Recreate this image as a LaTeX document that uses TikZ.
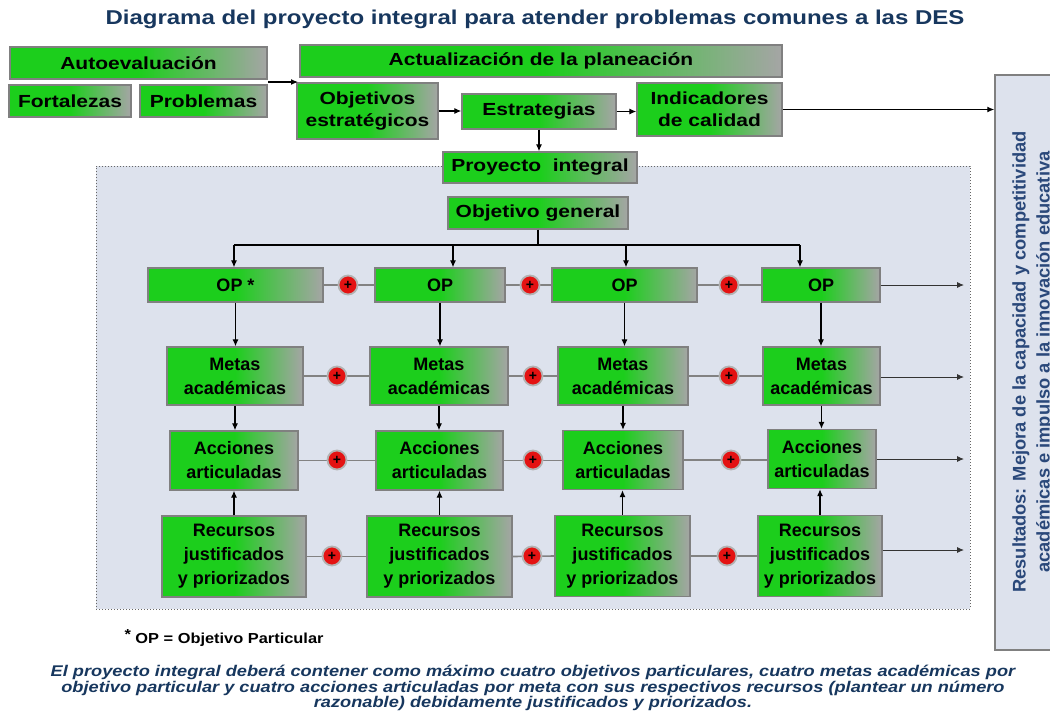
\documentclass[tikz,border=0pt]{standalone}
\usepackage{fontspec}
\setmainfont{Liberation Sans}
\newfontfamily\wideA[FakeStretch=1.2]{Liberation Sans}
\newfontfamily\wideB[FakeStretch=1.13]{Liberation Sans}
\newfontfamily\wideC[FakeStretch=1.175]{Liberation Sans}
\usetikzlibrary{arrows.meta}
\definecolor{bgreen}{RGB}{28,206,28}
\definecolor{bgray}{RGB}{165,165,165}
\definecolor{bordergray}{RGB}{128,128,128}
\definecolor{panelfill}{RGB}{221,226,237}
\definecolor{titleblue}{RGB}{23,55,94}
\definecolor{resblue}{RGB}{42,72,122}
\definecolor{pred}{RGB}{228,18,18}
\definecolor{linkgray}{RGB}{130,130,130}
\pgfdeclarehorizontalshading{gshade}{100bp}{color(0bp)=(bgreen); color(50bp)=(bgreen); color(75bp)=(bgray); color(100bp)=(bgray)}
\begin{document}
\begin{tikzpicture}[x=1pt,y=-1pt,
  gbox/.style={draw=bordergray, line width=1.4pt, shading=gshade, align=center, inner sep=0pt, text=black,
    font=\bfseries\fontsize{18}{24}\selectfont},
  topbox/.style={gbox, font=\wideA\bfseries\fontsize{17.5}{22}\selectfont},
  plus/.style={circle, fill=pred, draw=bordergray!60, line width=1.8pt, minimum size=19pt, inner sep=0pt, text=black,
    font=\bfseries\fontsize{14}{14}\selectfont},
  link/.style={draw=linkgray, line width=1.6pt},
  arr/.style={draw=black, line width=1.1pt, -{Latex[length=7pt,width=6pt]}},
  plain/.style={draw=black, line width=1.1pt},
  outarr/.style={draw=black!80, line width=0.9pt, -{Latex[length=7pt,width=6pt]}},
  panel/.style={draw=black!60, dotted, line width=1pt, fill=panelfill},
  resbox/.style={draw=bordergray, line width=1.4pt, fill=panelfill}
]
\clip (0,0) rectangle (1050,713);
\fill[white] (0,0) rectangle (1050,713);

% title
\node[font=\wideA\bfseries\fontsize{20}{24}\selectfont, text=titleblue] (title) at (535,19) {Diagrama del proyecto integral para atender problemas comunes a las DES};

% panel
\node[panel, minimum width=874pt, minimum height=443pt, inner sep=0pt] (panel) at (533,387.5) {};

% top section
\node[topbox, minimum width=257pt, minimum height=32pt] (auto) at (138.5,63) {Autoevaluación};
\node[topbox, minimum width=122pt, minimum height=32pt] (fort) at (70,101) {Fortalezas};
\node[topbox, minimum width=127pt, minimum height=32pt] (prob) at (203.5,101) {Problemas};
\node[topbox, minimum width=482pt, minimum height=32pt] (act) at (541,61) {Actualización de la planeación};
\node[topbox, minimum width=141pt, minimum height=56pt] (obj) at (367.5,111) {Objetivos\\estratégicos};
\node[topbox, minimum width=154pt, minimum height=35pt] (est) at (539,111.5) {Estrategias};
\node[topbox, minimum width=145pt, minimum height=53pt] (ind) at (709.5,109.5) {Indicadores\\de calidad};
\node[topbox, minimum width=194pt, minimum height=31pt] (proy) at (540,167.5) {Proyecto~ integral};
\node[topbox, minimum width=180pt, minimum height=32pt] (og) at (538,213) {Objetivo general};

% results box
\node[resbox, minimum width=80pt, minimum height=575pt, inner sep=0pt] (res) at (1035,362.5) {};
\node[rotate=90, align=center, text=resblue, font=\bfseries\fontsize{18.3}{24}\selectfont] (restext) at (1033,362)
  {Resultados: Mejora de la capacidad y competitividad\\académicas e impulso a la innovación educativa};

% grid
\node[gbox, minimum width=175pt, minimum height=34pt] (op1) at (235.5,285) {OP *};
\node[gbox, minimum width=130pt, minimum height=34pt] (op2) at (440,285) {OP};
\node[gbox, minimum width=145pt, minimum height=34pt] (op3) at (624.5,285) {OP};
\node[gbox, minimum width=118pt, minimum height=34pt] (op4) at (821,285) {OP};

\node[gbox, minimum width=136pt, minimum height=58pt] (me1) at (235,376) {Metas\\académicas};
\node[gbox, minimum width=138pt, minimum height=58pt] (me2) at (439,376) {Metas\\académicas};
\node[gbox, minimum width=130pt, minimum height=58pt] (me3) at (623,376) {Metas\\académicas};
\node[gbox, minimum width=117pt, minimum height=58pt] (me4) at (821.5,376) {Metas\\académicas};

\node[gbox, minimum width=128pt, minimum height=59pt] (ac1) at (234,460.5) {Acciones\\articuladas};
\node[gbox, minimum width=127pt, minimum height=59pt] (ac2) at (439.5,460.5) {Acciones\\articuladas};
\node[gbox, minimum width=120pt, minimum height=59pt] (ac3) at (623,460) {Acciones\\articuladas};
\node[gbox, minimum width=108pt, minimum height=59pt] (ac4) at (822,459) {Acciones\\articuladas};

\node[gbox, minimum width=144pt, minimum height=81pt] (re1) at (234,556.5) {Recursos\\justificados\\y priorizados};
\node[gbox, minimum width=145pt, minimum height=81pt] (re2) at (439.5,556.5) {Recursos\\justificados\\y priorizados};
\node[gbox, minimum width=135pt, minimum height=81pt] (re3) at (622.5,556) {Recursos\\justificados\\y priorizados};
\node[gbox, minimum width=124pt, minimum height=81pt] (re4) at (820,556) {Recursos\\justificados\\y priorizados};

% top connectors
\coordinate (a1) at (268,82);
\coordinate (a2) at (298,82);
\draw[arr] (a1) -- (a2);
\draw[arr] (obj.east) -- (obj.east -| est.west);
\draw[arr] (est.east) -- (est.east -| ind.west);
\draw[arr, line width=1.3pt] (ind.east) -- (ind.east -| res.west);
\draw[arr] (est.south) -- (est.south |- proy.north);

% bus
\coordinate (b1) at (234,245);
\coordinate (b2) at (453,245);
\coordinate (b3) at (626,245);
\coordinate (b4) at (800,245);
\draw[plain] (og.south) -- (og.south |- b1);
\draw[plain] (b1) -- (b4);
\draw[arr] (b1) -- (b1 |- op1.north);
\draw[arr] (b2) -- (b2 |- op2.north);
\draw[arr] (b3) -- (b3 |- op3.north);
\draw[arr] (b4) -- (b4 |- op4.north);

% vertical connectors
\foreach \i in {1,2,3,4}{
  \draw[arr] (op\i.south) -- (op\i.south |- me\i.north);
  \draw[arr] (me\i.south) -- (me\i.south |- ac\i.north);
  \draw[arr] (re\i.north) -- (re\i.north |- ac\i.south);
}

% links with plus
\draw[link] (op1.east) -- (op2.west);
\draw[link] (op2.east) -- (op3.west);
\draw[link] (op3.east) -- (op4.west);
\draw[link] (me1.east) -- (me2.west);
\draw[link] (me2.east) -- (me3.west);
\draw[link] (me3.east) -- (me4.west);
\draw[link] (ac1.east) -- (ac1.east -| ac2.west);
\draw[link] (ac2.east) -- (ac2.east -| ac3.west);
\draw[link] (ac3.east) -- (ac3.east -| ac4.west);
\draw[link] (re1.east) -- (re2.west);
\draw[link] (re2.east) -- (re3.west);
\draw[link] (re3.east) -- (re4.west);

\node[plus] (p1a) at (348,285) {+};
\node[plus] (p1b) at (530,285) {+};
\node[plus] (p1c) at (729,285) {+};
\node[plus] (p2a) at (337,376) {+};
\node[plus] (p2b) at (533,376) {+};
\node[plus] (p2c) at (729,376) {+};
\node[plus] (p3a) at (337,460) {+};
\node[plus] (p3b) at (533,460) {+};
\node[plus] (p3c) at (731,460) {+};
\node[plus] (p4a) at (332,556) {+};
\node[plus] (p4b) at (532,556) {+};
\node[plus] (p4c) at (727,556) {+};

% outputs to the right
\coordinate (o1) at (964,285);
\coordinate (o2) at (964,377);
\coordinate (o3) at (964,459);
\coordinate (o4) at (964,550);
\draw[outarr] (op4.east |- o1) -- (o1);
\draw[outarr] (me4.east |- o2) -- (o2);
\draw[outarr] (ac4.east |- o3) -- (o3);
\draw[outarr] (re4.east |- o4) -- (o4);

% footnote
\node[anchor=west, font=\wideB\bfseries\fontsize{14.5}{16}\selectfont] (foot) at (121,638)
  {\raisebox{4pt}{*} OP = Objetivo Particular};

% paragraph
\node[align=center, text=titleblue, font=\wideC\bfseries\itshape\fontsize{15.5}{13.5}\selectfont] (para) at (533,688)
  {El proyecto integral deberá contener como máximo cuatro objetivos particulares, cuatro metas académicas por\\
   objetivo particular y cuatro acciones articuladas por meta con sus respectivos recursos (plantear un número\\
   razonable) debidamente justificados y priorizados.};
\end{tikzpicture}
\end{document}
